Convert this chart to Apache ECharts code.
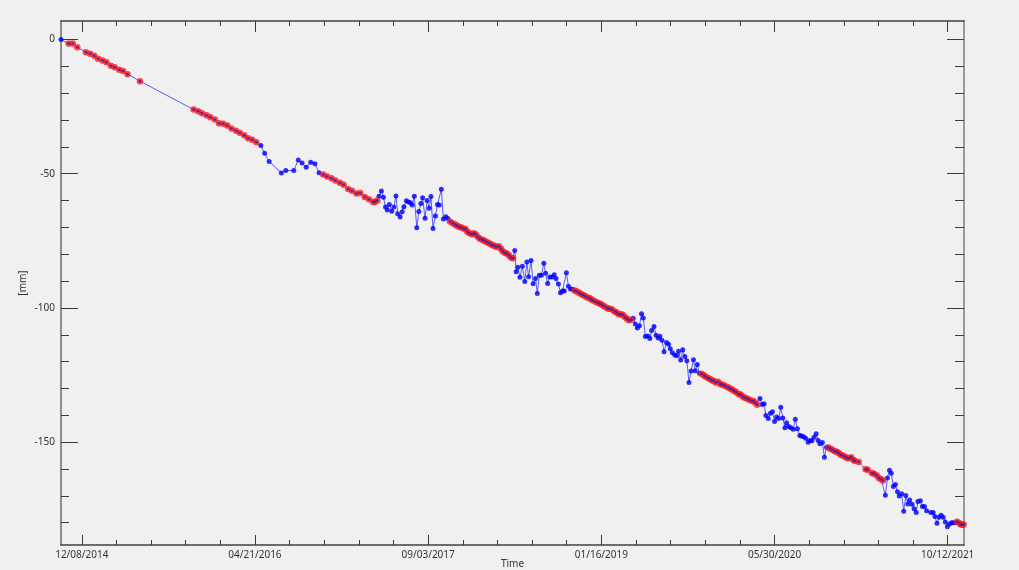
<!DOCTYPE html>
<html>
<head>
<meta charset="utf-8">
<script src="https://cdn.jsdelivr.net/npm/echarts@6/dist/echarts.min.js"></script>
<style>
html,body{margin:0;padding:0;background:#f0f0f0;}
#c{width:1019px;height:570px;}
</style>
</head>
<body>
<div id="c"></div>
<script>
// x: days since 12/08/2014 ; y: displacement [mm] ; red: 1 = red marker, 0 = blue marker
const days = [
-60,
-38,-26,-13,12,24,36,47,60,71,84,95,108,119,132,168,
323,336,347,360,371,384,396,408,420,432,445,456,469,480,492,504,
517,528,541,576,589,612,625,636,648,661,673,685,
697,708,721,732,745,756,769,780,793,804,817,829,841,847,853,
858,865,871,877,882,888,895,901,907,912,919,925,930,937,943,949,954,960,967,973,979,984,991,997,1003,1008,1014,1021,1027,1032,1038,1044,1051,1057,
1063,1071,1078,1083,1089,1095,1102,1108,1113,1119,1126,1132,1137,1143,1149,1156,1161,1167,1173,1180,1186,1191,1197,1204,1210,1215,1221,1227,1233,1239,1245,
1250,1254,1259,1265,1272,1279,1285,1290,1297,1303,1310,1315,1321,1327,1334,1339,1345,1351,1358,1364,1369,1376,1382,1388,1393,1399,1405,1411,1417,
1423,1429,1436,1441,1447,1453,1459,1466,1471,1477,1483,1490,1495,1501,1507,1514,1519,1525,1531,1538,1544,1550,1556,1562,1568,1574,1580,1586,
1592,1598,1604,1610,1616,1621,1627,1634,1640,1645,1652,1658,1664,1669,1675,1681,1688,1694,1699,1705,1712,1718,1723,1729,1735,1741,1747,1753,1759,1766,1771,1777,1783,
1789,1795,1800,1807,1813,1819,1824,1830,1837,1843,1848,1854,1860,1867,1873,1878,1884,1890,1897,1902,1908,1914,1920,1926,1932,1938,1944,1950,
1958,1964,1970,1975,1982,1988,1994,2000,2006,2012,2018,2024,2030,2035,2041,2047,2054,2060,2066,2073,2078,2084,2090,2097,2102,2108,2114,2120,2126,2131,2138,2144,2150,
2155,2161,2167,2174,2180,2185,2191,2197,2204,2209,2215,2221,2227,2232,2243,2263,2269,2281,2287,2295,2301,2308,2313,
2320,2326,2332,2337,2343,2349,2355,2360,2367,2373,2379,2385,2390,2397,2403,2409,2414,2421,2427,2433,2439,2451,2458,2463,2469,2475,2481,2487,2493,2499,2505,2511,2516,2522,
2527,2533,2538,2542,2546
];
const disp = [
0,
-1.5,-1.5,-2.9,-4.7,-5.3,-6.0,-7.2,-7.8,-8.5,-9.8,-10.3,-11.3,-11.7,-12.9,-15.5,
-26.1,-26.7,-27.5,-28.2,-29.0,-29.8,-31.2,-31.4,-32.0,-33.1,-34.0,-34.7,-35.7,-36.8,-37.3,-38.3,
-39.5,-42.4,-45.4,-49.7,-48.8,-48.8,-44.9,-46.0,-47.6,-45.7,-46.3,-49.6,
-50.3,-51.0,-51.7,-52.5,-53.4,-54.1,-55.7,-56.3,-57.4,-57.2,-58.7,-59.5,-60.5,-60.4,-60.0,
-58.4,-56.4,-58.8,-62.4,-63.5,-61.5,-64.0,-62.4,-58.3,-64.9,-66.1,-64.2,-62.3,-60.1,-60.5,-60.8,-61.6,-58.4,-70.1,-64.1,-61.1,-58.9,-66.6,-60.0,-62.9,-58.5,-70.4,-65.7,-61.5,-61.6,-55.8,-66.9,-66.0,-66.7,
-67.8,-68.4,-68.9,-69.4,-69.7,-70.0,-70.4,-70.6,-71.6,-72.2,-72.5,-72.2,-72.6,-73.5,-74.2,-74.6,-74.9,-75.3,-75.7,-76.2,-76.6,-76.8,-77.3,-77.0,-77.9,-78.9,-79.4,-79.7,-80.4,-81.2,-81.5,
-78.6,-86.5,-84.8,-88.6,-84.5,-90.1,-82.9,-88.4,-82.3,-91.0,-89.0,-94.6,-87.8,-87.8,-83.3,-87.1,-90.9,-88.5,-88.5,-87.6,-89.0,-91.1,-94.3,-93.7,-93.7,-86.9,-91.9,-92.9,-93.0,
-93.5,-93.9,-94.3,-94.8,-95.2,-95.5,-96.1,-96.3,-96.8,-97.2,-97.7,-98.1,-98.4,-98.7,-99.3,-99.8,-100.2,-100.3,-100.6,-101.3,-101.7,-102.3,-102.3,-102.5,-103.4,-104.0,-104.6,-104.4,
-103.8,-106.0,-107.5,-106.6,-102.2,-103.7,-110.6,-110.4,-111.4,-108.4,-106.9,-110.2,-111.2,-110.5,-112.0,-116.3,-112.9,-113.5,-115.2,-116.7,-117.5,-117.8,-116.1,-119.4,-115.6,-118.1,-119.7,-127.8,-123.5,-119.3,-123.4,-121.1,-124.3,
-124.5,-125.0,-125.5,-126.0,-126.5,-126.9,-127.1,-127.8,-127.5,-128.3,-128.5,-128.8,-129.3,-129.6,-130.1,-130.5,-130.9,-131.4,-132.1,-132.2,-133.0,-133.4,-133.7,-134.1,-134.5,-134.7,-135.2,-136.1,
-133.7,-136.0,-135.7,-140.1,-141.2,-139.2,-138.7,-142.3,-140.6,-141.2,-137.0,-141.0,-144.6,-142.8,-144.2,-144.6,-145.2,-141.5,-145.0,-147.5,-147.7,-148.0,-148.5,-150.0,-149.4,-149.5,-148.2,-146.9,-149.4,-150.6,-150.1,-155.6,-151.9,
-152.0,-152.4,-152.8,-153.4,-153.6,-154.0,-154.7,-155.0,-155.4,-155.9,-156.0,-155.6,-156.5,-157.0,-157.4,-160.1,-160.3,-161.5,-161.8,-162.3,-163.3,-163.8,-164.3,
-169.8,-163.3,-160.5,-161.6,-166.5,-165.8,-168.5,-170.0,-169.2,-175.7,-169.9,-173.0,-171.5,-173.1,-174.8,-176.2,-172.1,-171.8,-174.0,-174.0,-175.5,-176.2,-176.2,-177.7,-180.2,-178.0,-177.2,-178.0,-179.7,-181.5,-180.5,-180.0,-180.0,-180.0,
-179.6,-180.1,-180.7,-180.8,-180.7
];
const red = [
0,
1,1,1,1,1,1,1,1,1,1,1,1,1,1,1,
1,1,1,1,1,1,1,1,1,1,1,1,1,1,1,1,
0,0,0,0,0,0,0,0,0,0,0,0,
1,1,1,1,1,1,1,1,1,1,1,1,1,1,1,
0,0,0,0,0,0,0,0,0,0,0,0,0,0,0,0,0,0,0,0,0,0,0,0,0,0,0,0,0,0,0,0,0,0,
1,1,1,1,1,1,1,1,1,1,1,1,1,1,1,1,1,1,1,1,1,1,1,1,1,1,1,1,1,1,1,
0,0,0,0,0,0,0,0,0,0,0,0,0,0,0,0,0,0,0,0,0,0,0,0,0,0,0,0,0,
1,1,1,1,1,1,1,1,1,1,1,1,1,1,1,1,1,1,1,1,1,1,1,1,1,1,1,1,
0,0,0,0,0,0,0,0,0,0,0,0,0,0,0,0,0,0,0,0,0,0,0,0,0,0,0,0,0,0,0,0,0,
1,1,1,1,1,1,1,1,1,1,1,1,1,1,1,1,1,1,1,1,1,1,1,1,1,1,1,1,
0,0,0,0,0,0,0,0,0,0,0,0,0,0,0,0,0,0,0,0,0,0,0,0,0,0,0,0,0,0,0,0,0,
1,1,1,1,1,1,1,1,1,1,1,1,1,1,1,1,1,1,1,1,1,1,1,
0,0,0,0,0,0,0,0,0,0,0,0,0,0,0,0,0,0,0,0,0,0,0,0,0,0,0,0,0,0,0,0,0,0,
1,1,1,1,1
];
const xTickDays = [0, 500, 1000, 1500, 2000, 2500];
const xTickLabels = ['12/08/2014','04/21/2016','09/03/2017','01/16/2019','05/30/2020','10/12/2021'];
const yTicks = [0, -50, -100, -150];

const xMin = -60, xMax = 2547, yMin = -188.3, yMax = 6.9;
const xMinor = []; for (let d = 100; d < 2547; d += 100) if (d % 500) xMinor.push(d);
const yMinor = []; for (let v = -180; v < 0; v += 10) if (v % 50) yMinor.push(v);

const FONT = 'Noto Sans';
const dark = '#3a3a3a';

function xAx(pos, vals, len, labels, extra) {
  return Object.assign({
    type: 'value', position: pos, min: xMin, max: xMax, gridIndex: 0,
    axisLine: { show: false, onZero: false },
    axisTick: { show: true, inside: true, length: len, customValues: vals, lineStyle: { color: dark, width: 1 } },
    axisLabel: labels ? { show: true, customValues: vals, formatter: v => xTickLabels[xTickDays.indexOf(v)], color: '#333', fontFamily: FONT, fontSize: 10, margin: 5 } : { show: false },
    splitLine: { show: false }
  }, extra || {});
}
function yAx(pos, vals, len, labels, extra) {
  return Object.assign({
    type: 'value', position: pos, min: yMin, max: yMax, gridIndex: 0,
    axisLine: { show: false, onZero: false },
    axisTick: { show: true, inside: true, length: len, customValues: vals, lineStyle: { color: dark, width: 1 } },
    axisLabel: labels ? { show: true, customValues: vals, formatter: v => String(v), color: '#333', fontFamily: FONT, fontSize: 10, margin: 6 } : { show: false },
    splitLine: { show: false }
  }, extra || {});
}

const pts = days.map((d, i) => [d, disp[i]]);
const redPts = pts.filter((p, i) => red[i]);
const bluePts = pts.filter((p, i) => !red[i]);

const chart = echarts.init(document.getElementById('c'), null, { renderer: 'canvas' });
chart.setOption({
  backgroundColor: '#f0f0f0',
  animation: false,
  grid: { left: 61, top: 21, width: 903, height: 524, show: false, containLabel: false, outerBoundsMode: 'none' },
  xAxis: [
    xAx('bottom', xTickDays, 10, true, {
      axisLine: { show: true, onZero: false, lineStyle: { color: '#404040', width: 1.5 } },
      name: 'Time', nameLocation: 'middle', nameGap: 14, nameMoveOverlap: false,
      nameTextStyle: { color: '#333', fontFamily: FONT, fontSize: 10 }
    }),
    xAx('bottom', xMinor, 5, false),
    xAx('top', xTickDays, 11, false, { axisLine: { show: true, onZero: false, lineStyle: { color: '#404040', width: 1.5 } } }),
    xAx('top', xMinor, 5, false)
  ],
  yAxis: [
    yAx('left', yTicks, 17, true, {
      axisLine: { show: true, onZero: false, lineStyle: { color: '#8c8c8c', width: 2 } },
      name: '[mm]', nameLocation: 'middle', nameRotate: 90, nameGap: 33, nameMoveOverlap: false,
      nameTextStyle: { color: '#333', fontFamily: FONT, fontSize: 10 }
    }),
    yAx('left', yMinor, 8, false),
    yAx('right', yTicks, 17, false, { axisLine: { show: true, onZero: false, lineStyle: { color: '#999', width: 2 } } }),
    yAx('right', yMinor, 9, false)
  ],
  series: [
    {
      type: 'line', data: pts, xAxisIndex: 0, yAxisIndex: 0, z: 2,
      showSymbol: false, symbol: 'none', clip: false,
      lineStyle: { color: 'rgba(40,40,255,0.75)', width: 1 }
    },
    {
      type: 'scatter', data: bluePts, xAxisIndex: 0, yAxisIndex: 0, z: 3, clip: false,
      symbol: 'circle', symbolSize: 5, itemStyle: { color: '#0000ff' }
    },
    {
      type: 'scatter', data: redPts, xAxisIndex: 0, yAxisIndex: 0, z: 4, clip: false,
      symbol: 'circle', symbolSize: 6.5, itemStyle: { color: '#ff1a1a' }
    },
    {
      type: 'scatter', data: redPts, xAxisIndex: 0, yAxisIndex: 0, z: 5, clip: false,
      symbol: 'circle', symbolSize: 2.5, itemStyle: { color: '#2020c0' }
    }
  ]
});
</script>
</body>
</html>
